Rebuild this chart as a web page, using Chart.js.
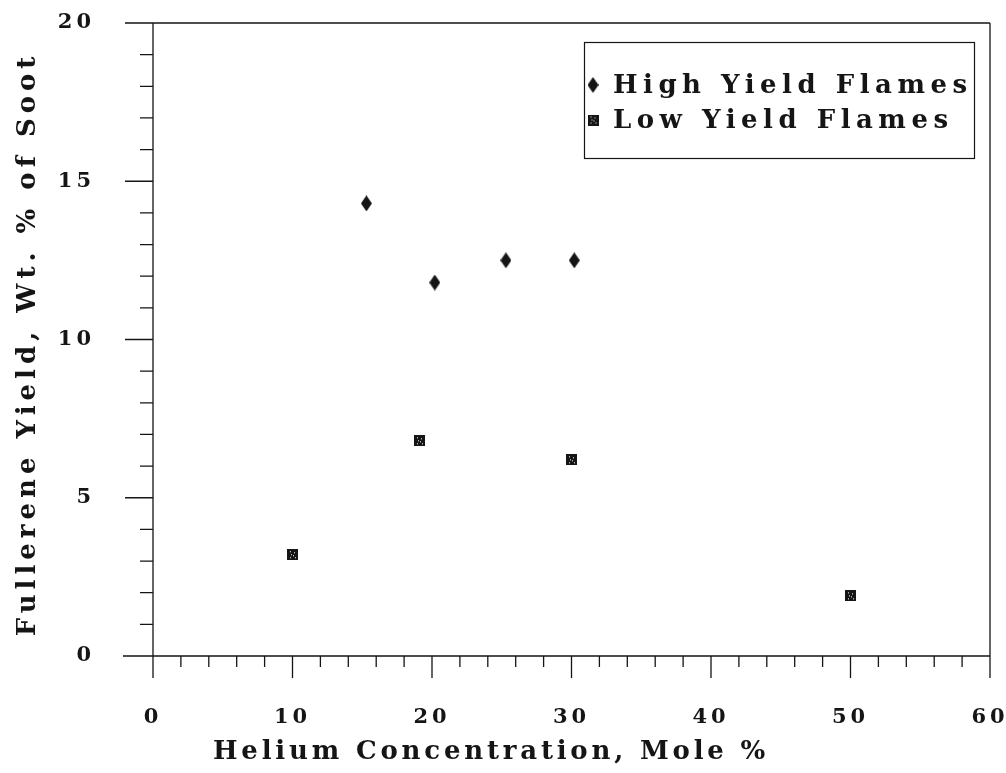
<!DOCTYPE html>
<html>
<head>
<meta charset="utf-8">
<script src="https://cdn.jsdelivr.net/npm/chart.js@4.4.1/dist/chart.umd.min.js"></script>
<style>
  html, body { margin: 0; padding: 0; background: #fff; }
  #wrap { width: 1006px; height: 773px; }
</style>
</head>
<body>
<div id="wrap"><canvas id="chart"></canvas></div>
<script>
// data
const seriesNames = ['High Yield Flames', 'Low Yield Flames'];
const highX = [15.3, 20.2, 25.3, 30.2];
const highY = [14.3, 11.8, 12.5, 12.5];
const lowX = [10.0, 19.1, 30.0, 50.0];
const lowY = [3.2, 6.8, 6.2, 1.9];
const xTickLabels = [0, 10, 20, 30, 40, 50, 60];
const yTickLabels = [0, 5, 10, 15, 20];
const xTitle = 'Helium Concentration, Mole %';
const yTitle = 'Fullerene Yield, Wt. % of Soot';

const ink = '#151515';
const serif = "'DejaVu Serif', 'Liberation Serif', serif";

// marker images
const makeDiamond = () => {
    const c = document.createElement('canvas');
    c.width = 11; c.height = 16;
    const g = c.getContext('2d');
    g.fillStyle = ink;
    g.beginPath();
    g.moveTo(5.5, 0); g.lineTo(11, 8); g.lineTo(5.5, 16); g.lineTo(0, 8);
    g.closePath();
    g.fill();
    return c;
};
const makeSquare = () => {
    const c = document.createElement('canvas');
    c.width = 11; c.height = 11;
    const g = c.getContext('2d');
    g.fillStyle = ink;
    g.fillRect(0, 0, 11, 11);
    g.fillStyle = '#fff';
    [[3,2],[7,3],[4,5],[6,6],[3,8],[8,8]].forEach(p => g.fillRect(p[0], p[1], 1, 1));
    return c;
};
const diamond = makeDiamond();
const square = makeSquare();

const toPoints = (xs, ys) => xs.map((x, i) => ({ x: x, y: ys[i] }));

const frame = {
    id: 'frame',
    beforeDraw(chart) {
        chart.ctx.letterSpacing = '4px';
    },
    afterDraw(chart) {
        const ctx = chart.ctx;
        const xs = chart.scales.x, ys = chart.scales.y;
        const L = xs.getPixelForValue(0), R = xs.getPixelForValue(60);
        const B = ys.getPixelForValue(0), T = ys.getPixelForValue(20);
        ctx.save();
        ctx.strokeStyle = ink;
        ctx.lineWidth = 1.3;
        ctx.beginPath();
        // frame, with the ends running past the corners like the original
        ctx.moveTo(L - 28, T); ctx.lineTo(R, T);
        ctx.moveTo(L - 30, B); ctx.lineTo(R, B);
        ctx.moveTo(L, T); ctx.lineTo(L, B + 22);
        ctx.moveTo(R, T); ctx.lineTo(R, B + 22);
        for (let v = 1; v < 20; v++) {
            const y = ys.getPixelForValue(v);
            ctx.moveTo(L - (v % 5 === 0 ? 28 : 13), y); ctx.lineTo(L, y);
        }
        for (let v = 2; v < 60; v += 2) {
            const x = xs.getPixelForValue(v);
            ctx.moveTo(x, B); ctx.lineTo(x, B + (v % 10 === 0 ? 22 : 11));
        }
        ctx.stroke();

        // axis titles
        ctx.fillStyle = ink;
        ctx.font = 'bold 26px ' + serif;
        ctx.letterSpacing = '3.8px';
        ctx.textAlign = 'center';
        ctx.textBaseline = 'middle';
        ctx.fillText(xTitle, 491, 752);
        ctx.save();
        ctx.letterSpacing = '5px';
        ctx.translate(28, 344);
        ctx.rotate(-Math.PI / 2);
        ctx.fillText(yTitle, 0, 0);
        ctx.restore();

        // legend box
        ctx.lineWidth = 1.2;
        ctx.strokeRect(584.5, 42.5, 390, 116);
        ctx.font = 'bold 26px ' + serif;
        ctx.letterSpacing = '5.5px';
        ctx.textAlign = 'left';
        chart.data.datasets.forEach((ds, i) => {
            const cy = 85 + i * 35;
            const img = ds.pointStyle;
            ctx.drawImage(img, 593 - img.width / 2, cy - img.height / 2);
            ctx.fillText(ds.label, 613, cy + 1);
        });
        ctx.restore();
    }
};

new Chart(document.getElementById('chart'), {
    type: 'scatter',
    data: {
        datasets: [
            {
                label: seriesNames[0],
                data: toPoints(highX, highY),
                pointStyle: diamond,
                backgroundColor: ink,
                borderColor: ink,
            },
            {
                label: seriesNames[1],
                data: toPoints(lowX, lowY),
                pointStyle: square,
                backgroundColor: ink,
                borderColor: ink,
            },
        ],
    },
    options: {
        responsive: true,
        maintainAspectRatio: false,
        animation: false,
        layout: { padding: { top: 23, right: 16, left: 0, bottom: 0 } },
        plugins: {
            legend: { display: false },
            tooltip: { enabled: false },
        },
        scales: {
            x: {
                type: 'linear',
                min: 0,
                max: 60,
                afterFit: (s) => { s.height = 117; },
                afterBuildTicks: (s) => { s.ticks = xTickLabels.map(v => ({ value: v })); },
                grid: { display: true, drawOnChartArea: false, drawTicks: true, tickLength: 49, tickColor: 'rgba(0,0,0,0)' },
                border: { display: false },
                ticks: {
                    padding: 0,
                    color: ink,
                    font: { family: serif, size: 21, weight: 'bold' },
                    maxRotation: 0,
                },
            },
            y: {
                type: 'linear',
                min: 0,
                max: 20,
                afterFit: (s) => { s.width = 153; },
                afterBuildTicks: (s) => { s.ticks = yTickLabels.map(v => ({ value: v })); },
                grid: { display: true, drawOnChartArea: false, drawTicks: true, tickLength: 58, tickColor: 'rgba(0,0,0,0)' },
                border: { display: false },
                ticks: {
                    padding: 0,
                    color: ink,
                    font: { family: serif, size: 21, weight: 'bold' },
                },
            },
        },
    },
    plugins: [frame],
});
</script>
</body>
</html>
